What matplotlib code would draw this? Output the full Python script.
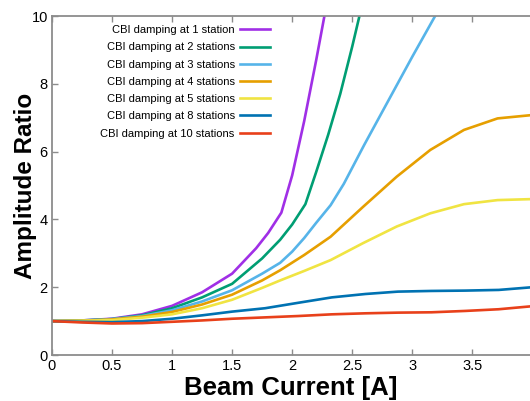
import matplotlib
matplotlib.use("Agg")
import matplotlib.pyplot as plt

plt.rcParams["font.family"] = ["Liberation Sans", "DejaVu Sans"]

labels = [
    "CBI damping at 1 station",
    "CBI damping at 2 stations",
    "CBI damping at 3 stations",
    "CBI damping at 4 stations",
    "CBI damping at 5 stations",
    "CBI damping at 8 stations",
    "CBI damping at 10 stations",
]
colors = ["#a02fe6", "#009e73", "#56b4e9", "#e69f00", "#f0e442", "#0072b2", "#e8401a"]

x1 = [0, 0.25, 0.5, 0.75, 1.0, 1.25, 1.5, 1.7, 1.8, 1.91, 2.0, 2.1, 2.2, 2.3]
y1 = [1.0, 1.02, 1.07, 1.2, 1.45, 1.85, 2.4, 3.15, 3.6, 4.2, 5.3, 6.9, 8.7, 10.6]

x2 = [0, 0.25, 0.5, 0.75, 1.0, 1.25, 1.5, 1.75, 1.9, 2.0, 2.11, 2.2, 2.3, 2.4, 2.5, 2.6]
y2 = [1.0, 1.02, 1.06, 1.17, 1.38, 1.7, 2.1, 2.85, 3.4, 3.85, 4.45, 5.4, 6.5, 7.7, 9.1, 10.6]

x3 = [0, 0.25, 0.5, 0.75, 1.0, 1.25, 1.5, 1.75, 1.9, 2.0, 2.1, 2.2, 2.32, 2.43, 2.6, 2.8, 3.0, 3.19, 3.3]
y3 = [1.0, 1.01, 1.06, 1.15, 1.32, 1.58, 1.91, 2.4, 2.72, 3.05, 3.45, 3.9, 4.42, 5.05, 6.2, 7.5, 8.8, 10.0, 10.6]

x45 = [0, 0.25, 0.5, 0.75, 1.0, 1.25, 1.5, 1.75, 1.9, 2.1, 2.32, 2.59, 2.87, 3.15, 3.43, 3.71, 4.0]
y4 = [1.0, 1.01, 1.05, 1.13, 1.27, 1.49, 1.78, 2.2, 2.5, 2.95, 3.49, 4.37, 5.26, 6.05, 6.64, 6.98, 7.08]
y5 = [1.0, 1.01, 1.03, 1.1, 1.2, 1.38, 1.63, 1.98, 2.2, 2.48, 2.8, 3.3, 3.79, 4.18, 4.45, 4.57, 4.60]

x810 = [0, 0.25, 0.5, 0.75, 1.0, 1.25, 1.5, 1.775, 2.05, 2.33, 2.61, 2.88, 3.16, 3.44, 3.72, 4.0]
y8 = [1.0, 0.98, 0.97, 1.0, 1.07, 1.17, 1.28, 1.38, 1.54, 1.70, 1.80, 1.87, 1.89, 1.90, 1.92, 2.0]
y10 = [1.0, 0.96, 0.93, 0.94, 0.98, 1.02, 1.07, 1.11, 1.15, 1.20, 1.23, 1.25, 1.26, 1.30, 1.35, 1.44]

series = [(x1, y1), (x2, y2), (x3, y3), (x45, y4), (x45, y5), (x810, y8), (x810, y10)]

fig = plt.figure(figsize=(5.30, 4.01), dpi=100)
ax = fig.add_axes([0.098, 0.1147, 0.902, 0.8453])

for (xs, ys), lab, c in zip(series, labels, colors):
    ax.plot(xs, ys, color=c, lw=1.9, label=lab)

ax.set_xlim(0, 3.98)
ax.set_ylim(0, 10)
ax.set_xticks([0, 0.5, 1, 1.5, 2, 2.5, 3, 3.5])
ax.set_xticklabels(["0", "0.5", "1", "1.5", "2", "2.5", "3", "3.5"])
ax.set_yticks([0, 2, 4, 6, 8, 10])

for side in ["left", "bottom", "top"]:
    ax.spines[side].set_color("#8c8c8c")
    ax.spines[side].set_linewidth(1.3)
ax.spines["right"].set_visible(False)
ax.tick_params(direction="in", top=True, color="#8c8c8c", length=4, width=1,
               labelsize=10.5, pad=3)

ax.set_xlabel("Beam Current [A]", fontsize=18.5, fontweight="bold", labelpad=2)
ax.set_ylabel("Amplitude Ratio", fontsize=17.5, fontweight="bold", labelpad=-4)

ax.legend(loc="upper right", bbox_to_anchor=(0.473, 0.996), frameon=False,
          markerfirst=False, fontsize=8.0, handlelength=2.7, handletextpad=0.5,
          labelspacing=0.65, borderpad=0.2)
for t in ax.get_legend().get_texts():
    t.set_ha("right")

fig.savefig("out.png", dpi=100)
